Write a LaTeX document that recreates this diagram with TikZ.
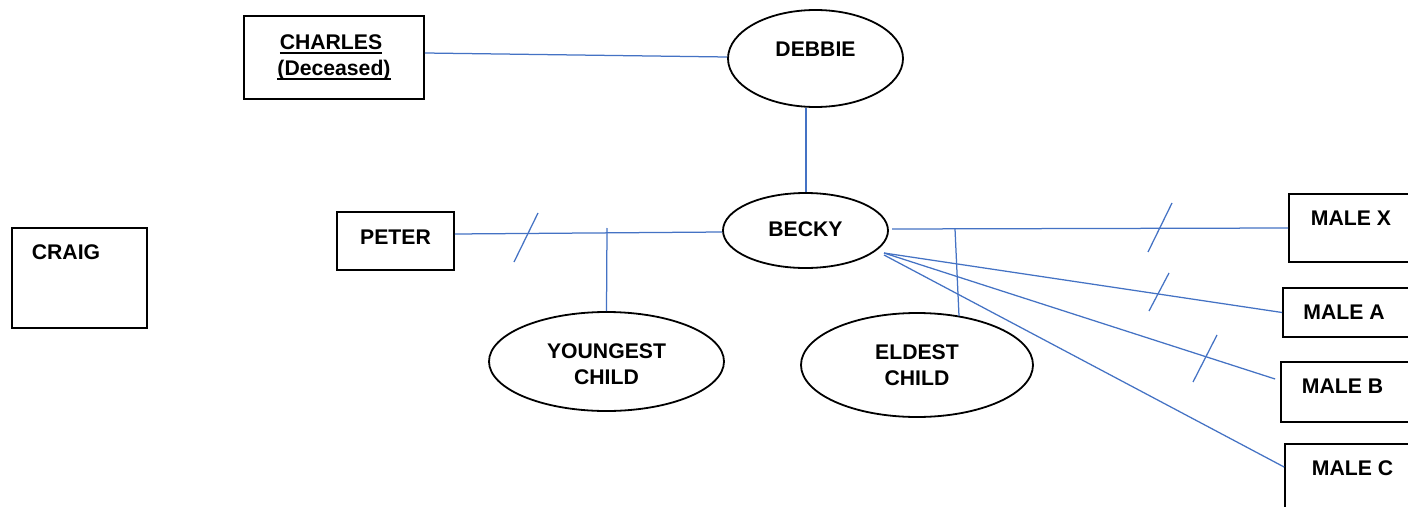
\documentclass[tikz,border=0pt]{standalone}
\usepackage{fontspec}
\setmainfont{Liberation Sans}
\usetikzlibrary{shapes.geometric}
\definecolor{linkblue}{RGB}{68,114,196}
\newcommand{\ulbox}[1]{\setbox0\hbox{#1}\rlap{\raisebox{-5pt}{\rule{\wd0}{1.8pt}}}\box0}
\begin{document}
\begin{tikzpicture}[x=1pt,y=-1pt,
  box/.style={draw=black,line width=1.8pt,rectangle,inner sep=0pt},
  oval/.style={draw=black,line width=1.8pt,ellipse,inner sep=0pt},
  txt/.style={anchor=base,inner sep=0pt,font=\fontsize{21.2}{26}\selectfont\bfseries},
  link/.style={draw=linkblue,line width=1.25pt},
  slash/.style={draw=linkblue,line width=1.25pt}]
\useasboundingbox (0,0) rectangle (1408,506);
\clip (0,0) rectangle (1408,506);
\fill[white] (0,0) rectangle (1408,506);

% shapes
\node[box,minimum width=180pt,minimum height=83pt] (charles) at (334,57.5) {};
\node[box,minimum width=135pt,minimum height=100pt] (craig) at (79.5,278) {};
\node[box,minimum width=117pt,minimum height=58pt] (peter) at (395.5,241) {};
\node[oval,minimum width=175pt,minimum height=97pt] (debbie) at (815.5,58.5) {};
\node[oval,minimum width=165pt,minimum height=75pt] (becky) at (805.5,230.5) {};
\node[oval,minimum width=235pt,minimum height=99pt] (youngest) at (606.5,361.5) {};
\node[oval,minimum width=232pt,minimum height=104pt] (eldest) at (917,365) {};
\node[box,minimum width=131pt,minimum height=68pt] (malex) at (1354.5,228) {};
\node[box,minimum width=137pt,minimum height=49pt] (malea) at (1351.5,312.5) {};
\node[box,minimum width=139pt,minimum height=60pt] (maleb) at (1350.5,392) {};
\node[box,minimum width=135pt,minimum height=76pt] (malec) at (1352.5,482) {};

% texts
\node[txt] (tcharles) at (331,49) {\ulbox{CHARLES}};
\node[txt] (tdeceased) at (334,75) {\ulbox{(Deceased)}};
\node[txt] (tcraig) at (66,259) {CRAIG};
\node[txt] (tpeter) at (395.5,244) {PETER};
\node[txt] (tdebbie) at (815.5,56) {DEBBIE};
\node[txt] (tbecky) at (805.5,236) {BECKY};
\node[txt] (tyoung1) at (606.5,358) {YOUNGEST};
\node[txt] (tyoung2) at (606.5,384) {CHILD};
\node[txt] (teld1) at (917,359) {ELDEST};
\node[txt] (teld2) at (917,385) {CHILD};
\node[txt] (tmalex) at (1351,225) {MALE X};
\node[txt] (tmalea) at (1344,319) {MALE A};
\node[txt] (tmaleb) at (1342.5,393) {MALE B};
\node[txt] (tmalec) at (1352.5,475) {MALE C};

% helper coordinates
\coordinate (yj) at (607,228);
\coordinate (bx) at (892,229);
\coordinate (ej) at (955,229);
\coordinate (eb) at (959,316);
\coordinate (bs) at (884,253);
\coordinate (bs2) at (884,255);
\coordinate (sp1) at (514,262); \coordinate (sp2) at (538,213);
\coordinate (sx1) at (1148,252); \coordinate (sx2) at (1172,203);
\coordinate (sa1) at (1149,311); \coordinate (sa2) at (1169,273);
\coordinate (sb1) at (1193,382); \coordinate (sb2) at (1217,335);

% connectors
\draw[link] ([yshift=4.5pt]charles.east) -- ([yshift=1.5pt]debbie.west);
\draw[link] ([xshift=0.5pt]debbie.south -| becky.north) -- ([xshift=0.5pt]becky.north);
\draw[link] ([yshift=7pt]peter.east) -- ([yshift=-1.5pt]becky.west);
\draw[link] (yj) -- (youngest.north);
\draw[link] (bx) -- (malex.west);
\draw[link] (ej) -- (eb);
\draw[link] (bs) -- (malea.west);
\draw[link] (bs) -- ([xshift=-5pt,yshift=13pt]maleb.west);
\draw[link] (bs2) -- ([yshift=15pt]malec.west);
\draw[slash] (sp1) -- (sp2);
\draw[slash] (sx1) -- (sx2);
\draw[slash] (sa1) -- (sa2);
\draw[slash] (sb1) -- (sb2);
\end{tikzpicture}
\end{document}
